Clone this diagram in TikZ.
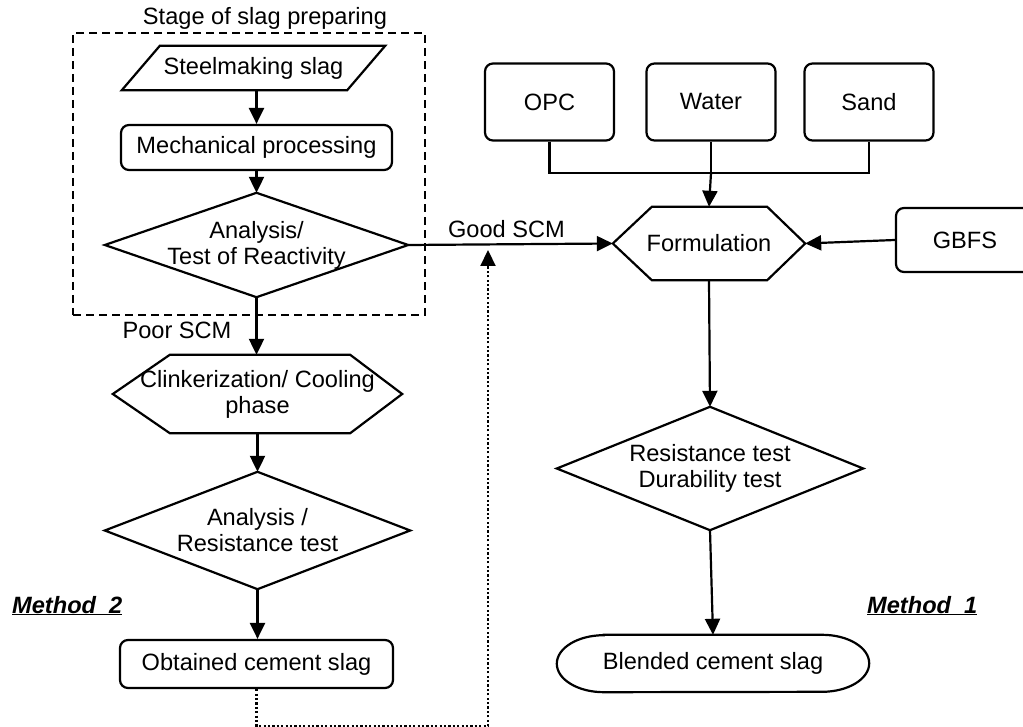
\documentclass[tikz,border=0pt]{standalone}
\usepackage{fontspec}
\setmainfont{Liberation Sans}
\usetikzlibrary{arrows.meta}
\begin{document}
\begin{tikzpicture}[x=1pt,y=1pt,
  every node/.style={font=\fontsize{23.6}{26}\selectfont},
  shp/.style={draw=none, inner sep=0pt, align=center},
  rbox/.style={draw, line width=2.2pt, rounded corners=8pt, inner sep=0pt, align=center},
  ln/.style={line width=2.2pt},
  arr/.style={line width=2.2pt, -{Triangle[length=16pt,width=15pt]}},
  dotarr/.style={line width=2.2pt, dash pattern=on 2.2pt off 2.2pt, -{Triangle[length=16pt,width=15pt]}},
  outline/.style={line width=2.2pt, line join=miter},
  stagebox/.style={draw, line width=2.2pt, dash pattern=on 8pt off 5pt, inner sep=0pt},
  lbl/.style={anchor=base, inner sep=0pt},
  mlbl/.style={anchor=base west, inner sep=0pt, font=\fontsize{23.6}{26}\selectfont\bfseries\itshape},
]
\useasboundingbox (0,0) rectangle (1023,-727);
\clip (0,0) rectangle (1023,-727);

% dashed stage frame
\node[stagebox, minimum width=352pt, minimum height=282pt] (stage) at (249,-174) {};
\node[lbl] (stagelbl) at (265,-25) {Stage of slag preparing};

% left column
\node[shp, minimum width=263pt, minimum height=44pt] (steel) at (253.5,-68) {Steelmaking slag};
\node[rbox, minimum width=271pt, minimum height=45pt] (mech) at (256.5,-147.5) {Mechanical processing};
\node[shp, minimum width=303pt, minimum height=104pt] (d1) at (256.5,-245) {Analysis/\\Test of Reactivity};
\node[shp, minimum width=289pt, minimum height=78pt] (clink) at (257.5,-394) {Clinkerization/ Cooling\\phase};
\node[shp, minimum width=305pt, minimum height=117pt] (d2) at (257.5,-530.5) {Analysis /\\Resistance test};
\node[rbox, minimum width=273pt, minimum height=48pt] (obt) at (256.5,-664) {Obtained cement slag};

% right column
\node[rbox, minimum width=129pt, minimum height=77pt] (opc) at (549.5,-102) {OPC};
\node[rbox, minimum width=129pt, minimum height=77pt] (water) at (711,-102) {Water};
\node[rbox, minimum width=129pt, minimum height=77pt] (sand) at (869,-102) {Sand};
\node[shp, minimum width=192pt, minimum height=73pt] (form) at (709,-243.5) {Formulation};
\node[rbox, minimum width=138pt, minimum height=64pt] (gbfs) at (965,-240) {GBFS};
\node[shp, minimum width=306pt, minimum height=123pt] (res) at (710,-468.5) {Resistance test\\Durability test};
\node[shp, minimum width=312pt, minimum height=57pt] (blend) at (713,-663.5) {Blended cement slag};

% outlines
\draw[outline] ([xshift=38pt]steel.north west) -- (steel.north east) -- ([xshift=-38pt]steel.south east) -- (steel.south west) -- cycle;
\draw[outline] (d1.north) -- (d1.east) -- (d1.south) -- (d1.west) -- cycle;
\draw[outline] (clink.west) -- ([xshift=57pt]clink.north west) -- ([xshift=-52pt]clink.north east) -- (clink.east) -- ([xshift=-52pt]clink.south east) -- ([xshift=57pt]clink.south west) -- cycle;
\draw[outline] (d2.north) -- (d2.east) -- (d2.south) -- (d2.west) -- cycle;
\draw[outline] (form.west) -- ([xshift=39pt]form.north west) -- ([xshift=-38pt]form.north east) -- (form.east) -- ([xshift=-38pt]form.south east) -- ([xshift=39pt]form.south west) -- cycle;
\draw[outline] (res.north) -- (res.east) -- (res.south) -- (res.west) -- cycle;
\draw[outline] ([xshift=47pt]blend.north west) -- ([xshift=-47pt]blend.north east)
  arc[start angle=90, end angle=-90, x radius=47pt, y radius=28.5pt]
  -- ([xshift=47pt]blend.south west)
  arc[start angle=270, end angle=90, x radius=47pt, y radius=28.5pt] -- cycle;

% connectors left
\draw[arr] (steel.south -| mech.north) -- (mech.north);
\draw[arr] (mech.south) -- (d1.north);
\draw[arr] (d1.south) -- (d1.south |- clink.north);
\draw[arr] (clink.south) -- (clink.south |- d2.north);
\draw[arr] (d2.south) -- (d2.south |- obt.north);
\node[lbl] (poorlbl) at (177,-338) {Poor SCM};

% good SCM
\draw[arr] (d1.east) -- (form.west);
\node[lbl] (goodlbl) at (506.5,-238) {Good SCM};

% inputs
\coordinate (bus) at (711,-173);
\draw[ln] (opc.south) |- (bus) -| (sand.south);
\draw[ln] (water.south) -- (bus);
\draw[arr] (bus) -- (form.north);
\draw[arr] (gbfs.west) -- (form.east);
\draw[arr] (form.south) -- (res.north);
\draw[arr] (res.south) -- (blend.north);

% feedback dotted
\coordinate (fb) at (488,-250);
\draw[dotarr] (obt.south) -- ++(0,-37) -| (fb);

% method labels
\node[mlbl] (m2) at (12,-613) {\underline{Method\ \ 2}};
\node[mlbl] (m1) at (867,-613) {\underline{Method\ \ 1}};
\end{tikzpicture}
\end{document}
